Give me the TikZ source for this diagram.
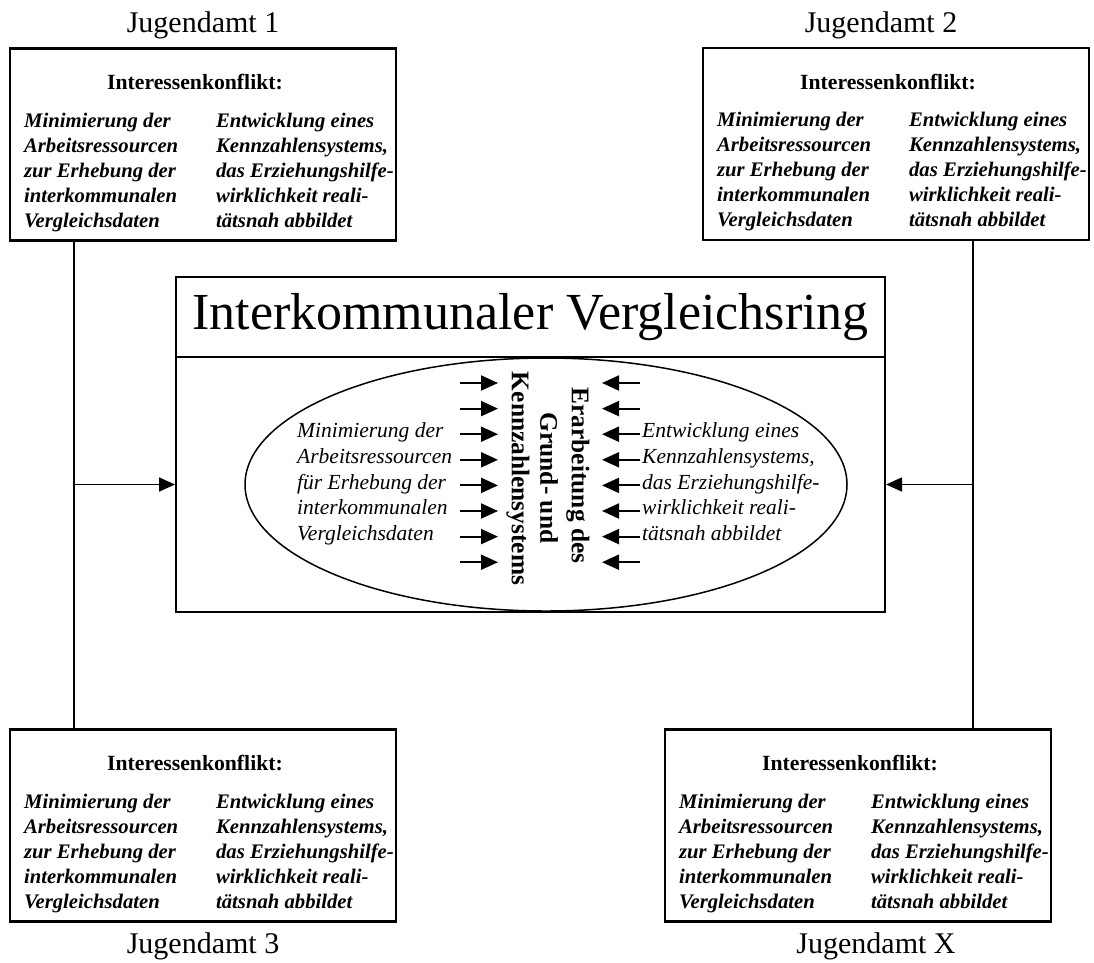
\documentclass[tikz,border=0pt]{standalone}
\usepackage{fontspec}
\setmainfont{Liberation Serif}
\usetikzlibrary{arrows.meta,shapes.geometric,calc}
\newcommand{\jcontent}[1]{%
  \node[head] (#1h) at ($(#1.north)+(-8,35)$) {Interessenkonflikt:};
  \node[col] (#1l) at ($(#1.north west)+(15,125)$) {\strut Minimierung der\\Arbeitsressourcen\\zur Erhebung der\\interkommunalen\\\strut Vergleichsdaten};
  \node[col] (#1r) at ($(#1.north west)+(207,125)$) {\strut Entwicklung eines\\Kennzahlensystems,\\das Erziehungshilfe-\\wirklichkeit reali-\\\strut tätsnah abbildet};
}
\begin{document}
\begin{tikzpicture}[x=1pt,y=-1pt,
  jbox/.style={draw,line width=2.2pt,rectangle,minimum width=386pt,minimum height=192pt,inner sep=0pt},
  head/.style={font=\fontsize{21.7}{25}\selectfont\bfseries,inner sep=0pt},
  col/.style={font=\fontsize{20.7}{25}\selectfont\bfseries\itshape,align=left,anchor=west,inner sep=0pt},
  etext/.style={font=\fontsize{21.5}{25.7}\selectfont\itshape,align=left,anchor=west,inner sep=0pt},
  mtext/.style={rotate=-90,font=\fontsize{25.4}{30}\selectfont\bfseries,inner sep=0pt},
  lbl/.style={font=\fontsize{30}{32}\selectfont,inner sep=0pt},
  tip/.style={-{Triangle[length=16pt,width=14pt]}},
  conn/.style={line width=1.6pt},
  sarrow/.style={line width=2pt,-{Triangle[length=17pt,width=15pt]}}
]
\useasboundingbox (0,0) rectangle (1094,962);

% Jugendamt boxes
\node[jbox] (b1) at (203,144.5) {};
\node[jbox] (b2) at (896,144) {};
\node[jbox] (b3) at (203,825.5) {};
\node[jbox] (b4) at (858,825.5) {};
\jcontent{b1}
\jcontent{b2}
\jcontent{b3}
\jcontent{b4}

% labels
\node[lbl] (j1) at (203,25) {Jugendamt 1};
\node[lbl] (j2) at (881,25) {Jugendamt 2};
\node[lbl] (j3) at (203,946) {Jugendamt 3};
\node[lbl] (jx) at (876,946) {Jugendamt X};

% central boxes
\node[draw,line width=2pt,minimum width=709pt,minimum height=255pt,inner sep=0pt] (body) at (530.5,484.5) {};
\node[draw,ellipse,line width=1.5pt,minimum width=602pt,minimum height=253pt,inner sep=0pt] (ell) at (546,484.5) {};
\node[draw,line width=2pt,minimum width=709pt,minimum height=80pt,inner sep=0pt,font=\fontsize{52}{56}\selectfont] (title) at (530.5,317) {Interkommunaler Vergleichsring};

% texts in ellipse
\node[etext] (et1) at (297,484) {\strut Minimierung der\\Arbeitsressourcen\\für Erhebung der\\interkommunalen\\\strut Vergleichsdaten};
\node[etext] (et2) at (642,484) {\strut Entwicklung eines\\Kennzahlensystems,\\das Erziehungshilfe-\\wirklichkeit reali-\\\strut tätsnah abbildet};
\node[mtext] (m1) at (578,475.5) {Erarbeitung des};
\node[mtext] (m2) at (549,478) {Grund- und};
\node[mtext] (m3) at (518,478.5) {Kennzahlensystems};

% small arrows
\foreach \i in {0,...,7}{
  \coordinate (la\i) at (460,{383+25.6*\i});
  \coordinate (lb\i) at (498,{383+25.6*\i});
  \coordinate (ra\i) at (640,{383+25.6*\i});
  \coordinate (rb\i) at (602,{383+25.6*\i});
  \draw[sarrow] (la\i) -- (lb\i);
  \draw[sarrow] (ra\i) -- (rb\i);
}

% connectors
\coordinate (lj) at (74,484.5);
\coordinate (rj) at (973,484.5);
\draw[conn] (lj |- b1.south) -- (lj |- b3.north);
\draw[conn,tip] (lj) -- (body.west);
\draw[conn] (rj |- b2.south) -- (rj |- b4.north);
\draw[conn,tip] (rj) -- (body.east);
\end{tikzpicture}
\end{document}
